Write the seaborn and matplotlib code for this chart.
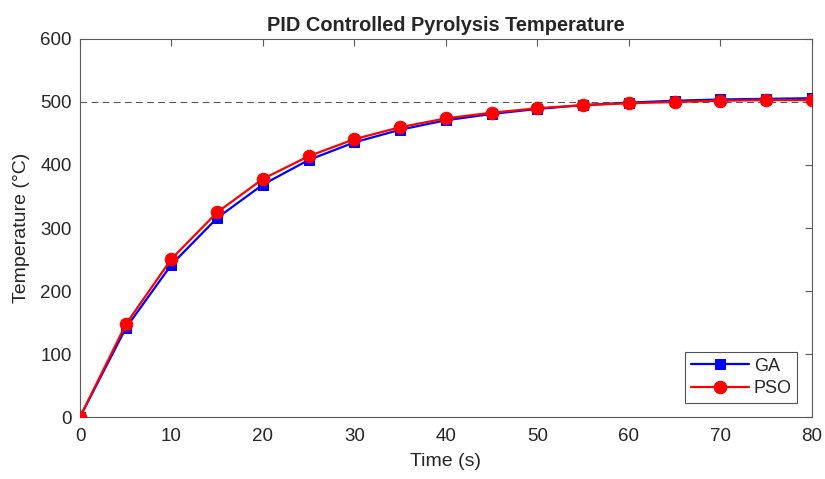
import numpy as np
import pandas as pd
import matplotlib
matplotlib.use('Agg')
import matplotlib.pyplot as plt
import seaborn as sns

# Data
time_s = [0, 5, 10, 15, 20, 25, 30, 35, 40, 45, 50, 55, 60, 65, 70, 75, 80]
ga_temp = [0, 141, 242, 316, 369, 408, 436, 456, 471, 481, 489, 495, 499, 502, 504, 505, 506]
pso_temp = [0, 147, 251, 325, 378, 414, 441, 460, 474, 483, 490, 495, 498, 500, 502, 503, 503]
setpoint = 500

sns.set_style('white')
plt.rcParams['font.family'] = ['Liberation Sans', 'DejaVu Sans']

fig = plt.figure(figsize=(8.25, 4.79), dpi=100)
ax = fig.add_axes([0.097, 0.1294, 0.887, 0.7892])

# setpoint line
ax.axhline(setpoint, color='#555555', linestyle=(0, (6, 4)), linewidth=0.8, zorder=1)

sns.lineplot(x=time_s, y=ga_temp, ax=ax, color='blue', marker='s', markersize=7,
             markeredgecolor='blue', linewidth=1.6, label='GA', zorder=3)
sns.lineplot(x=time_s, y=pso_temp, ax=ax, color='red', marker='o', markersize=9,
             markeredgecolor='red', linewidth=1.6, label='PSO', zorder=4)

ax.set_xlim(0, 80)
ax.set_ylim(0, 600)
ax.set_xticks(range(0, 81, 10))
ax.set_yticks(range(0, 601, 100))

ax.set_title('PID Controlled Pyrolysis Temperature', fontsize=14.4, fontweight='bold', pad=6)
ax.set_xlabel('Time (s)', fontsize=14, color='#262626', labelpad=6)
ax.set_ylabel('Temperature (°C)', fontsize=14, color='#262626', labelpad=7)

for side in ['top', 'right', 'bottom', 'left']:
    ax.spines[side].set_visible(True)
    ax.spines[side].set_color('#5a5a5a')
    ax.spines[side].set_linewidth(0.8)
ax.tick_params(direction='in', length=5, width=0.8, top=True, right=True,
               labelsize=13.5, color='#5a5a5a', labelcolor='#262626')
ax.tick_params(axis='x', pad=8)
ax.tick_params(axis='y', pad=6)

leg = ax.legend(loc='lower right', fontsize=13, frameon=True, fancybox=False,
                edgecolor='#262626', handlelength=3.2, handletextpad=0.3,
                borderaxespad=0.8, borderpad=0.3, labelspacing=0.3)
leg.get_frame().set_linewidth(0.8)

fig.savefig('out.png', dpi=100)
